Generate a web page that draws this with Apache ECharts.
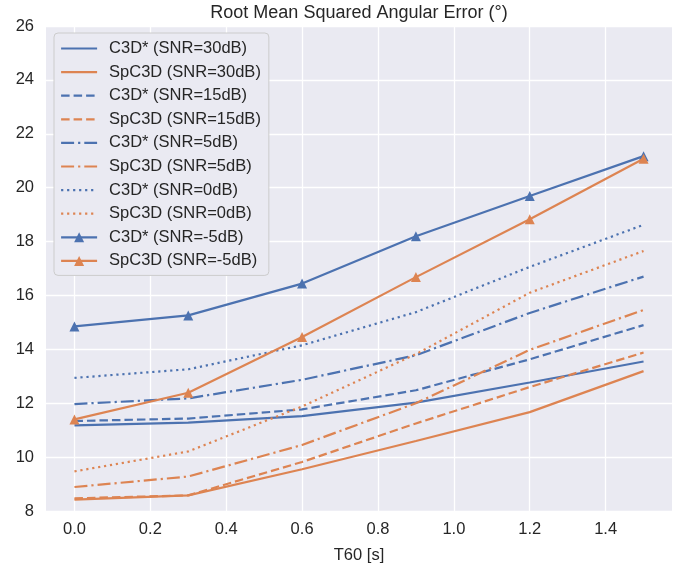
<!DOCTYPE html>
<html>
<head>
<meta charset="utf-8">
<script src="https://cdn.jsdelivr.net/npm/echarts@6/dist/echarts.min.js"></script>
<style>html,body{margin:0;padding:0;background:#fff;}#c{width:686px;height:569px;}</style>
</head>
<body>
<div id="c"></div>
<script>
var T60 = [0, 0.3, 0.6, 0.9, 1.2, 1.5];
var xTicks = [0, 0.2, 0.4, 0.6, 0.8, 1.0, 1.2, 1.4];
var c3d_30 = [11.18, 11.28, 11.52, 12.02, 12.77, 13.55];
var sp_30 = [8.42, 8.58, 9.55, 10.6, 11.67, 13.19];
var c3d_15 = [11.34, 11.43, 11.77, 12.48, 13.63, 14.9];
var sp_15 = [8.47, 8.58, 9.82, 11.25, 12.6, 13.88];
var c3d_5 = [11.97, 12.18, 12.87, 13.78, 15.35, 16.7];
var sp_5 = [8.89, 9.28, 10.45, 12.0, 13.98, 15.46];
var c3d_0 = [12.94, 13.26, 14.15, 15.38, 17.06, 18.62];
var sp_0 = [9.47, 10.21, 11.88, 13.82, 16.1, 17.65];
var c3d_m5 = [14.85, 15.26, 16.44, 18.2, 19.69, 21.17];
var sp_m5 = [11.4, 12.39, 14.46, 16.68, 18.83, 21.07];

var BLUE = '#4C72B0', ORANGE = '#DD8452', TXT = '#262626';
var FONT = 'Liberation Sans';
var LW = 2.2;
var DASH = [8.5, 4], DASHDOT = [13, 4, 2.2, 4], DOT = [2.2, 3.8];

var defs = [
  {name: 'C3D* (SNR=30dB)', data: c3d_30, color: BLUE, type: 'solid', marker: false},
  {name: 'SpC3D (SNR=30dB)', data: sp_30, color: ORANGE, type: 'solid', marker: false},
  {name: 'C3D* (SNR=15dB)', data: c3d_15, color: BLUE, type: DASH, marker: false},
  {name: 'SpC3D (SNR=15dB)', data: sp_15, color: ORANGE, type: DASH, marker: false},
  {name: 'C3D* (SNR=5dB)', data: c3d_5, color: BLUE, type: DASHDOT, marker: false},
  {name: 'SpC3D (SNR=5dB)', data: sp_5, color: ORANGE, type: DASHDOT, marker: false},
  {name: 'C3D* (SNR=0dB)', data: c3d_0, color: BLUE, type: DOT, marker: false},
  {name: 'SpC3D (SNR=0dB)', data: sp_0, color: ORANGE, type: DOT, marker: false},
  {name: 'C3D* (SNR=-5dB)', data: c3d_m5, color: BLUE, type: 'solid', marker: true},
  {name: 'SpC3D (SNR=-5dB)', data: sp_m5, color: ORANGE, type: 'solid', marker: true}
];

var series = defs.map(function (d, i) {
  return {
    name: d.name,
    type: 'line',
    z: 3 + i,
    data: T60.map(function (x, j) { return [x, d.data[j]]; }),
    symbol: d.marker ? 'triangle' : 'none',
    symbolSize: 10,
    showSymbol: d.marker,
    itemStyle: {color: d.color},
    lineStyle: {color: d.color, width: LW, type: d.type, cap: 'butt'},
    emphasis: {disabled: true},
    animation: false
  };
});

var legendData = defs.map(function (d) {
  var o = {name: d.name};
  if (!d.marker) o.itemStyle = {opacity: 0};
  return o;
});

var chart = echarts.init(document.getElementById('c'), null, {renderer: 'canvas'});
chart.setOption({
  animation: false,
  backgroundColor: '#ffffff',
  title: {
    text: 'Root Mean Squared Angular Error (°)',
    left: 359, top: 4, padding: 0,
    textAlign: 'center',
    textStyle: {fontFamily: FONT, fontSize: 18, fontWeight: 'normal', color: TXT}
  },
  grid: {left: 46, right: 14, top: 26, bottom: 56, show: true, backgroundColor: '#EAEAF2', borderWidth: 0},
  legend: {
    orient: 'vertical',
    left: 54, top: 33,
    padding: [7, 8, 6, 6],
    itemWidth: 36, itemHeight: 12.5, itemGap: 6.6,
    backgroundColor: '#EAEAF2',
    borderColor: '#cccccc', borderWidth: 1, borderRadius: 4,
    data: legendData,
    selectedMode: false,
    lineStyle: {width: LW},
    textStyle: {fontFamily: FONT, fontSize: 16.5, color: TXT, lineHeight: 16, padding: [0, 0, 0, 7]}
  },
  xAxis: {
    type: 'value',
    min: -0.075, max: 1.575,
    name: 'T60 [s]', nameLocation: 'middle', nameGap: 36,
    nameTextStyle: {fontFamily: FONT, fontSize: 16.5, color: TXT},
    axisLine: {show: false},
    axisTick: {show: false, customValues: xTicks},
    axisLabel: {customValues: xTicks, margin: 10, fontFamily: FONT, fontSize: 16.5, color: TXT,
      formatter: function (v) { return v.toFixed(1); }},
    splitLine: {show: true, lineStyle: {color: '#ffffff', width: 1.3}}
  },
  yAxis: {
    type: 'value',
    min: 8, max: 26, interval: 2,
    axisLine: {show: false},
    axisTick: {show: false},
    axisLabel: {margin: 12, fontFamily: FONT, fontSize: 16.5, color: TXT},
    splitLine: {show: true, lineStyle: {color: '#ffffff', width: 1.3}}
  },
  series: series
});
</script>
</body>
</html>
